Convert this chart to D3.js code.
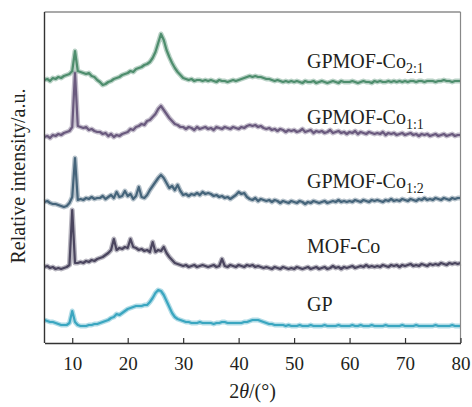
<!DOCTYPE html>
<html>
<head>
<meta charset="utf-8">
<script src="https://cdn.jsdelivr.net/npm/d3@7"></script>
<style>
  body { margin: 0; background: #fff; }
  text { font-family: "Liberation Serif", "Times New Roman", serif; fill: #231f20; }
</style>
</head>
<body>
<div id="chart"></div>
<script>
// 2theta grid, one reading every 0.5 degree
const twoTheta = d3.range(5, 80.001, 0.5);
const xTicks = [10, 20, 30, 40, 50, 60, 70, 80];

// series names (bottom to top) with subscripts
const seriesNames = ["GP", "MOF-Co", "GPMOF-Co", "GPMOF-Co", "GPMOF-Co"];
const seriesSubs = ["", "", "1:2", "1:1", "2:1"];
const seriesColors = ["#3aa6c0", "#4b465f", "#45647a", "#6a5a7e", "#4e8d6d"];

// relative intensity (stacked, a.u.)
const gpValues = [
  23, 22, 21, 21, 20, 19, 18, 18, 18, 20,
  32, 21, 18, 17, 17, 17, 18, 18, 19, 19,
  20, 21, 22, 23, 25, 26, 29, 28, 30, 32,
  34, 35, 36, 37, 37, 37, 38, 38, 41, 45,
  50, 53, 52, 48, 42, 36, 30, 26, 24, 23,
  22, 21, 21, 20, 20, 20, 21, 20, 20, 20,
  20, 19, 20, 20, 21, 21, 20, 20, 20, 20,
  20, 20, 21, 21, 22, 23, 23, 23, 22, 21,
  20, 19, 19, 18, 18, 18, 18, 17, 18, 17,
  17, 17, 18, 17, 17, 17, 18, 17, 17, 17,
  17, 18, 17, 17, 17, 17, 18, 17, 17, 17,
  17, 18, 17, 17, 18, 17, 17, 17, 18, 17,
  17, 17, 17, 18, 17, 17, 17, 17, 17, 18,
  17, 17, 17, 17, 18, 17, 17, 17, 17, 17,
  17, 18, 17, 17, 17, 17, 17, 18, 17, 17,
  17
];
const mofValues = [
  76, 77, 75, 76, 74, 75, 74, 75, 76, 78,
  133, 80, 80, 81, 80, 82, 81, 83, 82, 84,
  85, 86, 88, 90, 93, 104, 93, 95, 94, 96,
  95, 104, 96, 95, 93, 94, 92, 93, 91, 101,
  91, 93, 92, 96, 90, 86, 83, 80, 79, 78,
  77, 78, 76, 77, 78, 76, 77, 78, 77, 76,
  77, 78, 76, 77, 84, 77, 76, 78, 77, 76,
  78, 77, 76, 78, 77, 78, 76, 77, 76, 75,
  76, 75, 74, 76, 75, 74, 76, 75, 74, 75,
  74, 76, 75, 74, 75, 76, 74, 75, 76, 74,
  75, 76, 74, 75, 77, 75, 76, 74, 76, 75,
  76, 77, 75, 76, 77, 76, 78, 76, 77, 76,
  77, 76, 78, 77, 76, 78, 77, 78, 76, 78,
  77, 78, 79, 77, 78, 77, 79, 78, 77, 79,
  78, 79, 78, 80, 79, 78, 80, 79, 80, 79,
  80
];
const co12Values = [
  141, 142, 140, 139, 139, 138, 137, 136, 137, 140,
  146, 185, 143, 144, 143, 145, 144, 146, 144, 145,
  145, 147, 144, 146, 148, 145, 151, 146, 147, 152,
  147, 149, 144, 147, 156, 146, 145, 148, 153, 157,
  161, 165, 168, 165, 160, 155, 157, 153, 158, 152,
  148, 149, 147, 149, 148, 150, 148, 151, 149, 150,
  149, 147, 148, 146, 147, 145, 146, 144, 146, 148,
  151, 149, 150, 146, 144, 143, 145, 142, 144, 143,
  142, 143, 141, 143, 142, 140, 142, 141, 140, 142,
  141, 140, 142, 141, 139, 141, 140, 142, 141, 140,
  141, 142, 140, 141, 142, 141, 143, 141, 142, 141,
  142, 141, 143, 142, 141, 143, 142, 141, 143, 142,
  143, 142, 141, 143, 142, 144, 142, 143, 142, 144,
  143, 142, 144, 143, 142, 144, 143, 145, 143, 144,
  143, 145, 144, 143, 145, 144, 143, 145, 144, 145,
  145
];
const co11Values = [
  206, 207, 205, 208, 207, 209, 208, 210, 211, 212,
  216, 270, 217, 216, 215, 216, 213, 214, 212, 211,
  211, 209, 210, 207, 209, 206, 208, 207, 209, 210,
  211, 214, 213, 216, 217, 219, 218, 222, 223, 226,
  229, 234, 237, 233, 229, 225, 222, 219, 218, 216,
  216, 214, 216, 215, 213, 216, 214, 215, 216, 214,
  215, 213, 216, 215, 214, 216, 215, 214, 216, 215,
  214, 216, 215, 217, 218, 217, 218, 216, 217, 215,
  214, 215, 213, 214, 212, 214, 213, 211, 213, 212,
  213, 211, 212, 214, 211, 212, 213, 210, 212, 211,
  212, 210, 211, 213, 210, 211, 212, 210, 211, 209,
  211, 210, 212, 209, 211, 210, 209, 211, 210, 209,
  210, 209, 211, 208, 210, 209, 210, 208, 209, 210,
  208, 209, 210, 208, 209, 207, 209, 208, 209, 207,
  208, 209, 207, 208, 209, 207, 208, 209, 207, 208,
  208
];
const co21Values = [
  263, 264, 262, 265, 264, 266, 265, 267, 268, 269,
  272, 292, 272, 271, 270, 269, 270, 267, 266, 263,
  261, 258, 259, 261, 262, 264, 265, 266, 268, 269,
  270, 272, 271, 274, 275, 276, 278, 279, 281, 285,
  291, 300, 309, 303, 293, 286, 280, 275, 271, 268,
  265, 264, 263, 264, 262, 263, 263, 262, 263, 262,
  263, 262, 261, 263, 262, 262, 261, 262, 263, 262,
  263, 264, 265, 266, 267, 266, 267, 266, 266, 265,
  264, 264, 263, 262, 263, 262, 261, 262, 261, 262,
  261, 262, 261, 260, 262, 261, 261, 262, 260, 261,
  262, 261, 260, 261, 262, 261, 260, 262, 261, 261,
  261, 262, 261, 260, 261, 262, 261, 261, 260, 262,
  261, 262, 261, 261, 262, 261, 262, 261, 262, 261,
  262, 261, 262, 262, 261, 262, 262, 261, 262, 262,
  262, 261, 262, 262, 263, 262, 262, 261, 262, 262,
  262
];

class XrdChart {
  constructor(_config) {
    this.config = {
      parentElement: _config.parentElement,
      width: 472,
      height: 407,
      margin: { top: 12, right: 11.5, bottom: 64, left: 44.5 },
      labelX: 307,
      labelOffsets: [-15, -10, -10, -11, -13],
    };
    this.initVis();
  }

  initVis() {
    const vis = this;
    const m = vis.config.margin;
    vis.innerW = vis.config.width - m.left - m.right;
    vis.innerH = vis.config.height - m.top - m.bottom;

    vis.svg = d3
      .select(vis.config.parentElement)
      .append("svg")
      .attr("width", vis.config.width)
      .attr("height", vis.config.height);

    vis.g = vis.svg
      .append("g")
      .attr("transform", `translate(${m.left},${m.top})`);

    vis.x = d3.scaleLinear().domain([5, 80]).range([0, vis.innerW]);
    vis.y = d3.scaleLinear().domain([0, 331]).range([vis.innerH, 0]);

    this.updateVis();
  }

  updateVis() {
    const vis = this;
    const series = [gpValues, mofValues, co12Values, co11Values, co21Values].map(
      (vals, i) => ({
        name: seriesNames[i],
        sub: seriesSubs[i],
        color: seriesColors[i],
        points: twoTheta.map((t, j) => ({ t: t, v: vals[j] })),
      })
    );

    const line = d3
      .line()
      .x((d) => vis.x(d.t))
      .y((d) => vis.y(d.v));

    // soft halo to mimic the noisy band of the traces
    vis.g
      .selectAll("path.halo")
      .data(series)
      .join("path")
      .attr("class", "halo")
      .attr("d", (d) => line(d.points))
      .attr("fill", "none")
      .attr("stroke", (d) => d.color)
      .attr("stroke-width", 5)
      .attr("stroke-opacity", 0.4)
      .attr("stroke-linejoin", "round");

    vis.g
      .selectAll("path.trace")
      .data(series)
      .join("path")
      .attr("class", "trace")
      .attr("d", (d) => line(d.points))
      .attr("fill", "none")
      .attr("stroke", (d) => d.color)
      .attr("stroke-width", 2.2)
      .attr("stroke-linejoin", "round");

    // series labels
    const labels = vis.g
      .selectAll("text.seriesLabel")
      .data(series)
      .join("text")
      .attr("class", "seriesLabel")
      .attr("x", vis.config.labelX - vis.config.margin.left)
      .attr(
        "y",
        (d, i) => vis.y(d.points[d.points.length - 1].v) + vis.config.labelOffsets[i]
      )
      .style("font-size", "20px");
    labels.append("tspan").text((d) => d.name);
    labels
      .filter((d) => d.sub !== "")
      .append("tspan")
      .attr("dy", 4.5)
      .style("font-size", "14px")
      .text((d) => d.sub);

    // frame
    vis.g
      .append("line")
      .attr("x1", 0).attr("x2", vis.innerW)
      .attr("y1", 0).attr("y2", 0)
      .attr("stroke", "#555").attr("stroke-width", 1.2);
    vis.g
      .append("line")
      .attr("x1", vis.innerW).attr("x2", vis.innerW)
      .attr("y1", 0).attr("y2", vis.innerH)
      .attr("stroke", "#888").attr("stroke-width", 1.2);
    vis.g
      .append("line")
      .attr("x1", 0).attr("x2", 0)
      .attr("y1", 0).attr("y2", vis.innerH)
      .attr("stroke", "#333").attr("stroke-width", 1.4);

    // bottom axis with inward ticks
    const xAxis = d3
      .axisBottom(vis.x)
      .tickValues(xTicks)
      .tickSizeInner(-5)
      .tickSizeOuter(0)
      .tickPadding(14);
    const xAxisG = vis.g
      .append("g")
      .attr("transform", `translate(0,${vis.innerH})`)
      .attr("font-family", '"Liberation Serif", "Times New Roman", serif')
      .call(xAxis);
    xAxisG.select(".domain").attr("stroke", "#333").attr("stroke-width", 1.4);
    xAxisG.selectAll(".tick line").attr("stroke", "#333").attr("stroke-width", 1.2);
    xAxisG
      .selectAll(".tick text")
      .style("font-size", "19px")
      .attr("fill", "#231f20");

    // axis titles
    const xTitle = vis.svg
      .append("text")
      .attr("x", vis.config.margin.left + vis.innerW / 2)
      .attr("y", 398)
      .attr("text-anchor", "middle")
      .style("font-size", "20px");
    xTitle.append("tspan").text("2");
    xTitle.append("tspan").style("font-style", "italic").text("θ");
    xTitle.append("tspan").text("/(°)");

    vis.svg
      .append("text")
      .attr("transform", "translate(25,176) rotate(-90)")
      .attr("text-anchor", "middle")
      .style("font-size", "20px")
      .text("Relative intensity/a.u.");
  }
}

new XrdChart({ parentElement: "#chart" });
</script>
</body>
</html>
